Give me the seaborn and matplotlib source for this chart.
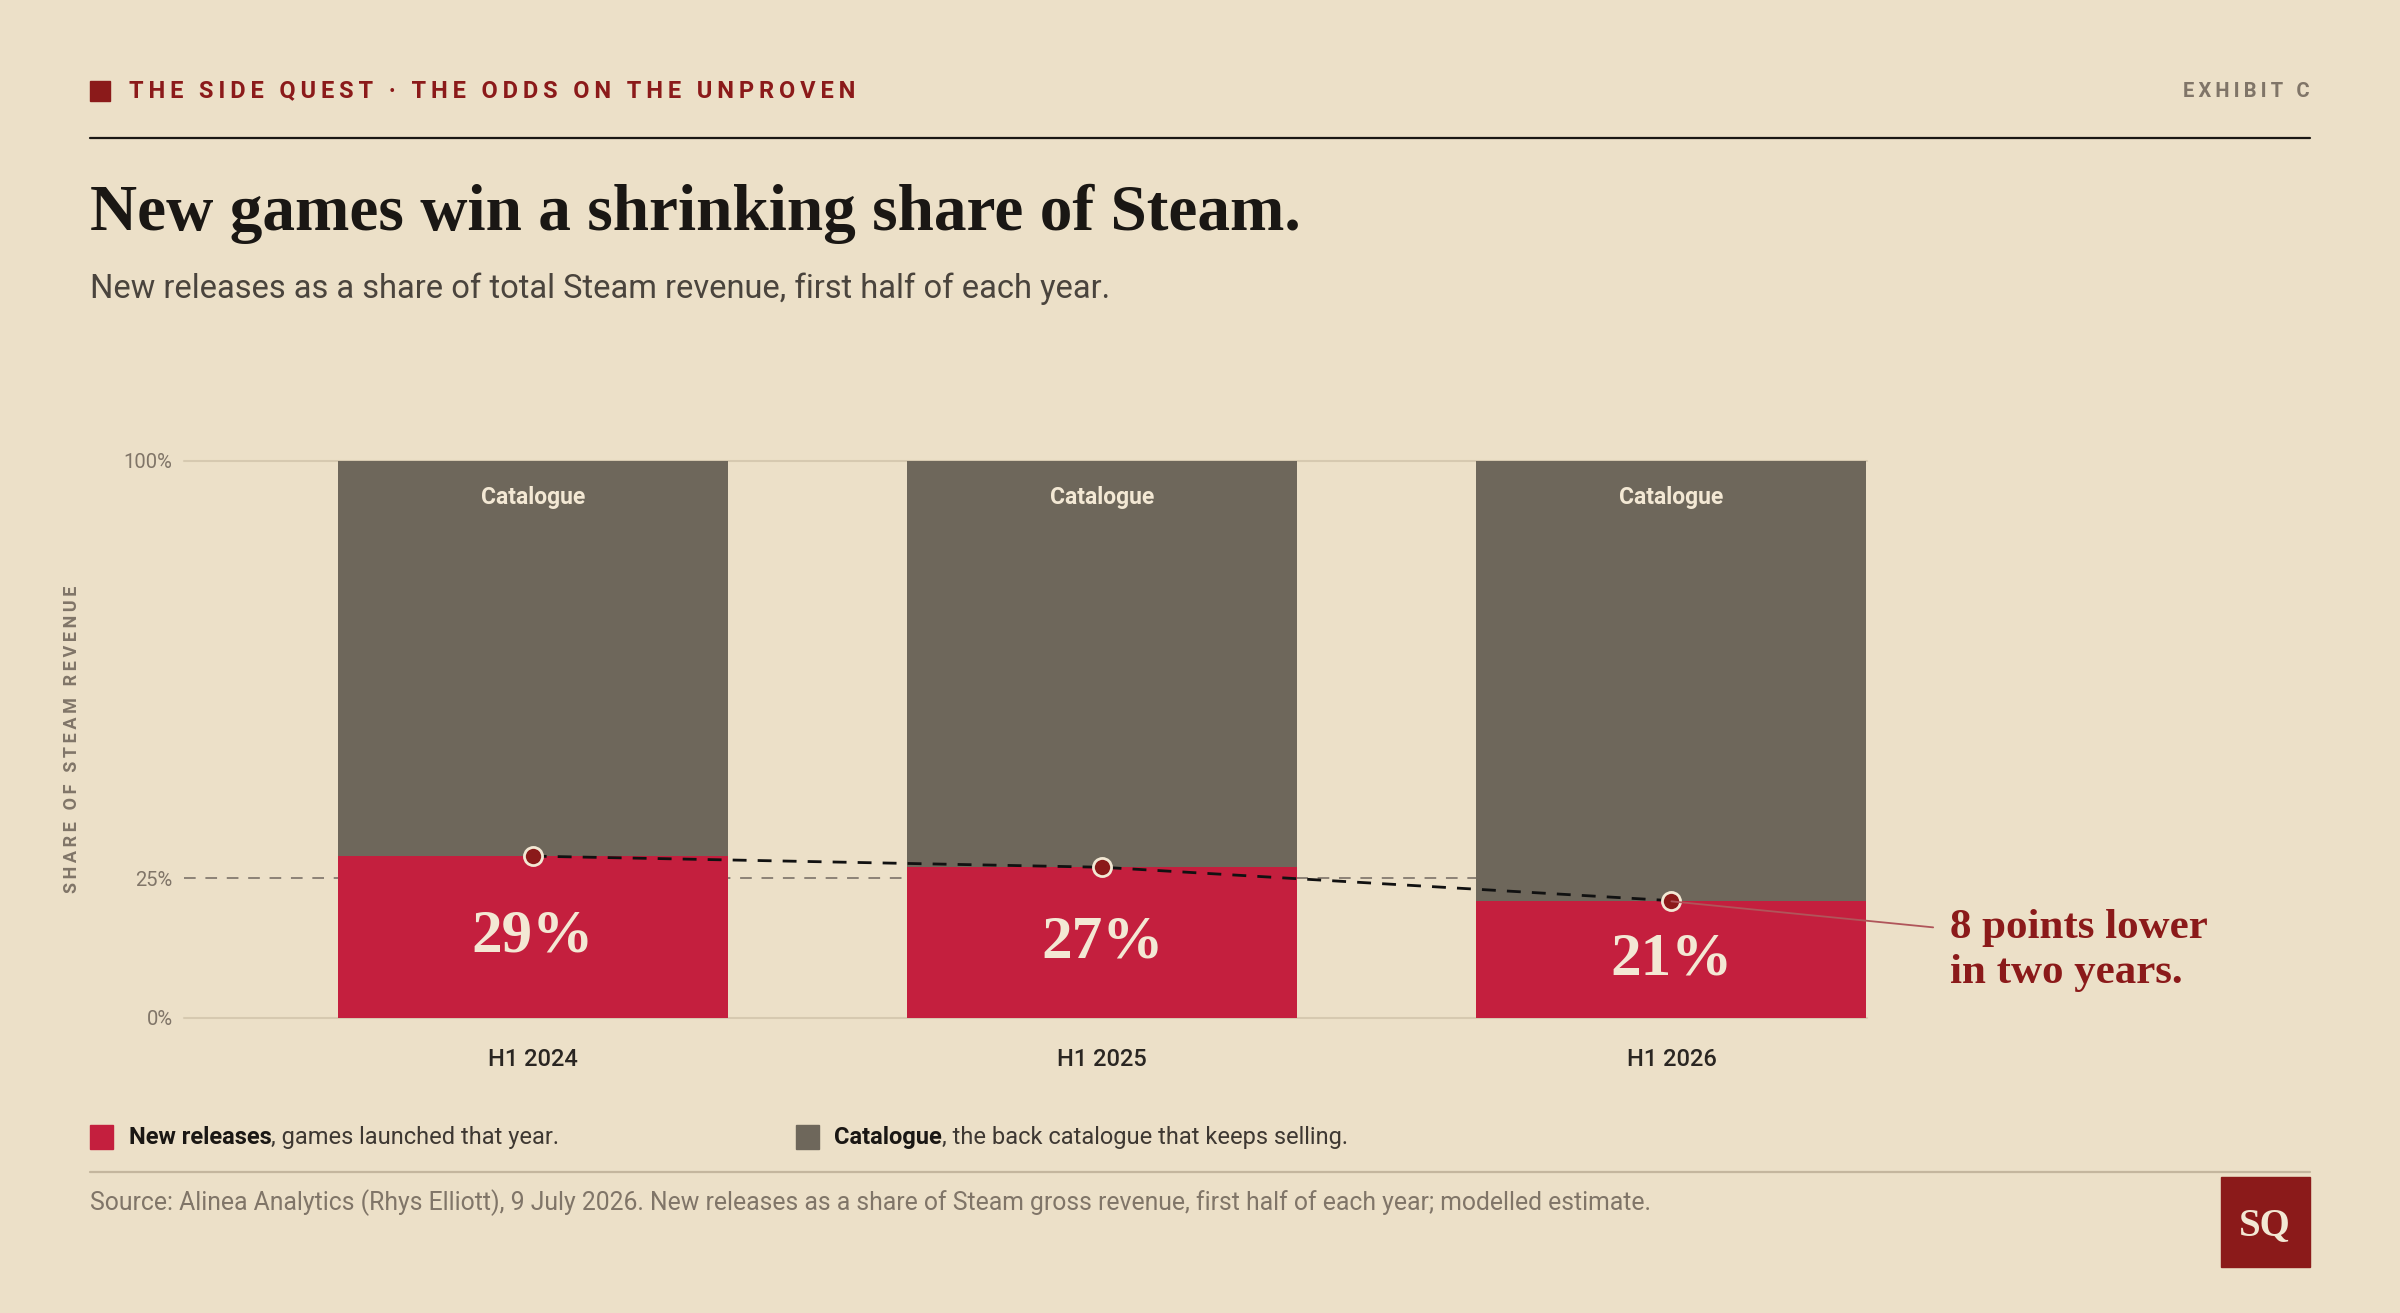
import matplotlib
matplotlib.use("Agg")
import matplotlib.pyplot as plt
import seaborn as sns
import pandas as pd

# 데이터
periods = ["H1 2024", "H1 2025", "H1 2026"]
new_share = [29, 27, 21]
total_share = [100, 100, 100]
y_ticks = [0, 25, 100]
y_tick_labels = ["0%", "25%", "100%"]

BG = "#ECE0C8"
RED = "#C41F3E"
GREY = "#6E675B"
DARK_RED = "#8B1A1A"
CREAM = "#F3E8D4"
INK = "#1A1714"
MUTED = "#807568"

SANS = ["Roboto", "DejaVu Sans"]
SERIF = ["Liberation Serif", "DejaVu Serif"]

sns.set_theme(style="white")
plt.rcParams["font.family"] = SANS

W, H = 1568, 858  # 참조 이미지 좌표계


def fx(px):
    return px / W


def fy(py):
    return 1 - py / H


def spaced(s):
    return "\u2009".join(s)


fig = plt.figure(figsize=(24, 13.13), dpi=100)
fig.patch.set_facecolor(BG)

ax = fig.add_axes([fx(120), fy(665), fx(1220) - fx(120), fy(301) - fy(665)])
ax.set_facecolor(BG)

df = pd.DataFrame({"period": periods, "new": new_share, "total": total_share})

# 막대: 전체(카탈로그) 위에 신작 비중
sns.barplot(data=df, x="period", y="total", color=GREY, saturation=1, width=0.685,
            linewidth=0, ax=ax, zorder=2)
sns.barplot(data=df, x="period", y="new", color=RED, saturation=1, width=0.685,
            linewidth=0, ax=ax, zorder=3)

ax.set_xlim(-0.613, 2.344)
ax.set_ylim(0, 100)

# 눈금선
ax.axhline(0, color="#D6C9B0", lw=1.5, zorder=1, clip_on=False)
ax.axhline(100, color="#D6C9B0", lw=1.5, zorder=1, clip_on=False)
ax.axhline(25, color="#8C8276", lw=1.4, ls=(0, (6, 5)), zorder=1)

# 추세선과 점
xs = list(range(len(periods)))
ax.plot(xs, new_share, color="#111111", lw=2, ls=(0, (5, 4)), zorder=4)
ax.scatter(xs, new_share, s=170, color=DARK_RED, edgecolor=CREAM, linewidth=2, zorder=5)

for i, v in enumerate(new_share):
    ax.text(i, v / 2, f"{v}%", ha="center", va="center", color=CREAM,
            fontsize=44, fontweight="bold", family=SERIF, zorder=6)
    ax.text(i, 100 - 6.6, "Catalogue", ha="center", va="center", color=CREAM,
            fontsize=16.5, fontweight="bold", zorder=6)

ax.set_yticks(y_ticks)
ax.set_yticklabels(y_tick_labels)
ax.tick_params(axis="y", colors=MUTED, labelsize=14.5, length=0, pad=8)
ax.tick_params(axis="x", colors="#2A2622", labelsize=17, length=0, pad=22)
for lab in ax.get_xticklabels():
    lab.set_fontweight("medium")
ax.set_xlabel("")
ax.set_ylabel("")
for sp in ax.spines.values():
    sp.set_visible(False)
ax.grid(False)

# 세로축 제목
fig.text(fx(47), fy(483), spaced("SHARE OF STEAM REVENUE"), rotation=90, ha="center", va="center",
         color=MUTED, fontsize=13, fontweight="bold")

# 머리글
fig.patches.append(plt.Rectangle((fx(59), fy(66)), fx(13), fy(53) - fy(66), transform=fig.transFigure,
                                 color=DARK_RED))
fig.text(fx(84), fy(59.5), spaced("THE SIDE QUEST · THE ODDS ON THE UNPROVEN"), ha="left", va="center",
         color=DARK_RED, fontsize=17, fontweight="bold")
fig.text(fx(1509), fy(59.5), spaced("EXHIBIT C"), ha="right", va="center",
         color=MUTED, fontsize=14.5, fontweight="bold")
fig.add_artist(plt.Line2D([fx(59), fx(1509)], [fy(90), fy(90)], color=INK, lw=1.6))

fig.text(fx(59), fy(140), "New games win a shrinking share of Steam.", ha="left", va="center",
         color=INK, fontsize=47, fontweight="bold", family=SERIF)
fig.text(fx(59), fy(189), "New releases as a share of total Steam revenue, first half of each year.",
         ha="left", va="center", color="#4A443D", fontsize=23.5)

# 주석
fig.add_artist(plt.Line2D([fx(1092), fx(1263)], [fy(589), fy(606)], color="#B0555A", lw=1.3))
fig.text(fx(1274), fy(621), "8 points lower\nin two years.", ha="left", va="center",
         color=DARK_RED, fontsize=31, fontweight="bold", family=SERIF, linespacing=1.25)

# 범례
fig.canvas.draw()
renderer = fig.canvas.get_renderer()
legend_items = [(59, RED, "New releases", ", games launched that year."),
                (520, GREY, "Catalogue", ", the back catalogue that keeps selling.")]
for x0, col, bold_txt, rest in legend_items:
    fig.patches.append(plt.Rectangle((fx(x0), fy(751)), fx(15), fy(735) - fy(751),
                                     transform=fig.transFigure, color=col))
    t = fig.text(fx(x0 + 25), fy(743), bold_txt, ha="left", va="center", color=INK,
                 fontsize=17, fontweight="bold")
    bb = t.get_window_extent(renderer)
    x_next = fig.transFigure.inverted().transform((bb.x1, bb.y0))[0]
    fig.text(x_next, fy(743), rest, ha="left", va="center", color="#3E3832", fontsize=17)

fig.add_artist(plt.Line2D([fx(59), fx(1509)], [fy(766), fy(766)], color="#C4B69E", lw=1.6))
fig.text(fx(59), fy(786), "Source: Alinea Analytics (Rhys Elliott), 9 July 2026. New releases as a share of "
         "Steam gross revenue, first half of each year; modelled estimate.",
         ha="left", va="center", color=MUTED, fontsize=17.8)

# 로고
fig.patches.append(plt.Rectangle((fx(1451), fy(828)), fx(58), fy(769) - fy(828),
                                 transform=fig.transFigure, color=DARK_RED))
fig.text(fx(1480), fy(801), "SQ", ha="center", va="center", color=CREAM, fontsize=28,
         fontweight="bold", family=SERIF)

fig.savefig("out.png", dpi=100, facecolor=BG)
